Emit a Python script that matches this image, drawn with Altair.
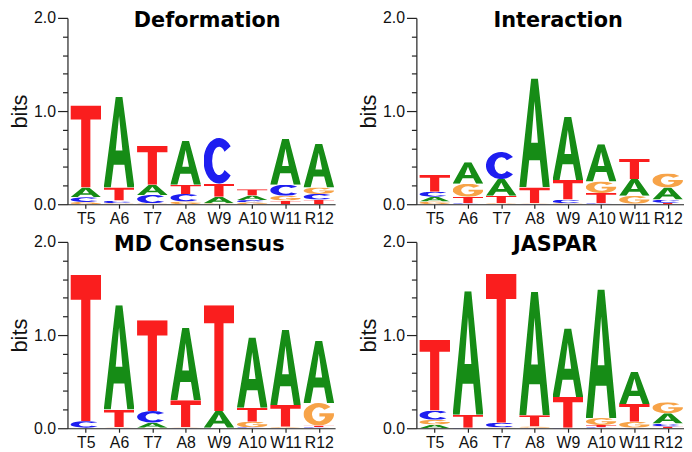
import base64
import json
import altair as alt
import pandas as pd

# ---------------- data ----------------
POSITIONS = ["T5", "A6", "T7", "A8", "W9", "A10", "W11", "R12"]
PANELS = ["Deformation", "Interaction", "MD Consensus", "JASPAR"]
LETTERS = ["A", "C", "G", "T"]

# information content (bits) of each base at each position
DEF_A = [0.105, 0.97, 0.11, 0.47, 0.07, 0.05, 0.49, 0.47]
DEF_C = [0.05, 0.03, 0.09, 0.08, 0.49, 0.025, 0.12, 0.06]
DEF_G = [0.025, 0.01, 0.01, 0.03, 0.01, 0.02, 0.05, 0.07]
DEF_T = [0.88, 0.14, 0.42, 0.10, 0.14, 0.065, 0.04, 0.05]

INT_A = [0.05, 0.23, 0.18, 1.17, 0.68, 0.40, 0.18, 0.13]
INT_C = [0.055, 0.01, 0.29, 0.005, 0.04, 0.01, 0.005, 0.035]
INT_G = [0.03, 0.14, 0.01, 0.005, 0.01, 0.125, 0.085, 0.15]
INT_T = [0.18, 0.07, 0.08, 0.17, 0.21, 0.11, 0.22, 0.015]

MD_A = [0.003, 1.12, 0.055, 0.78, 0.18, 0.755, 0.805, 0.67]
MD_C = [0.07, 0.005, 0.125, 0.005, 0.003, 0.01, 0.005, 0.01]
MD_G = [0.003, 0.005, 0.005, 0.005, 0.003, 0.06, 0.01, 0.24]
MD_T = [1.57, 0.19, 0.975, 0.29, 1.135, 0.15, 0.235, 0.02]

JAS_A = [0.04, 1.325, 0.005, 1.325, 0.735, 1.38, 0.345, 0.11]
JAS_C = [0.10, 0.003, 0.05, 0.005, 0.003, 0.01, 0.005, 0.03]
JAS_G = [0.05, 0.003, 0.005, 0.015, 0.003, 0.075, 0.065, 0.12]
JAS_T = [0.76, 0.14, 1.60, 0.12, 0.33, 0.025, 0.19, 0.02]

PANEL_DATA = {
    "Deformation": {"A": DEF_A, "C": DEF_C, "G": DEF_G, "T": DEF_T},
    "Interaction": {"A": INT_A, "C": INT_C, "G": INT_G, "T": INT_T},
    "MD Consensus": {"A": MD_A, "C": MD_C, "G": MD_G, "T": MD_T},
    "JASPAR": {"A": JAS_A, "C": JAS_C, "G": JAS_G, "T": JAS_T},
}

Y_TICKS = [0.0, 0.2, 0.4, 0.6, 0.8, 1.0, 1.2, 1.4, 1.6, 1.8, 2.0]

# ---------------- letter glyphs (stretchable SVG) ----------------
LETTER_COLORS = {"A": "#168c16", "C": "#1e1ef0", "G": "#f7a348", "T": "#fa1e1e"}
LETTER_PATHS = {
    "A": "M39,0H61L100,100H77L67.5,75H32.5L23,100H0Z M50,21L61,59H39Z",
    "T": "M0,0H100V17H65V100H35V17H0Z",
    "C": "M88.3,17.86 A50,50 0 1 0 88.3,82.14 L68.4,69.9 A23,31 0 1 1 68.4,30.1 Z",
    "G": "M88.3,17.86 A50,50 0 1 0 99.51,56.96 V46 H52 V60 H70 V67.2 A23,31 0 1 1 68.4,30.1 Z",
}


def glyph_url(letter):
    svg = (
        '<svg xmlns="http://www.w3.org/2000/svg" width="100" height="100" '
        'viewBox="0 0 100 100" preserveAspectRatio="none">'
        f'<path d="{LETTER_PATHS[letter]}" fill="{LETTER_COLORS[letter]}" fill-rule="evenodd"/>'
        "</svg>"
    )
    return "data:image/svg+xml;base64," + base64.b64encode(svg.encode()).decode()


GLYPHS = {l: glyph_url(l) for l in LETTERS}


def panel_frame(name):
    rows = []
    d = PANEL_DATA[name]
    for i, pos in enumerate(POSITIONS):
        stack = sorted(((d[l][i], l) for l in LETTERS))
        base = 0.0
        for h, l in stack:
            rows.append({
                "pos": i, "label": pos, "letter": l,
                "x0": i - 0.46, "x1": i + 0.46,
                "y0": base, "y1": base + h, "url": GLYPHS[l],
            })
            base += h
    return pd.DataFrame(rows)


LABEL_EXPR = f"{json.dumps(POSITIONS)}[datum.value]"
TITLE_DX = {"Deformation": 6, "Interaction": 8, "MD Consensus": -2, "JASPAR": 5}


def panel(name):
    df = panel_frame(name)
    return (
        alt.Chart(df)
        .mark_image(aspect=False)
        .encode(
            x=alt.X(
                "x0:Q",
                scale=alt.Scale(domain=[-0.55, 7.49], nice=False, zero=False),
                axis=alt.Axis(
                    values=list(range(len(POSITIONS))),
                    labelExpr=LABEL_EXPR,
                    title=None,
                    grid=False,
                    tickSize=4,
                    labelPadding=2,
                    labelFontSize=16,
                    labelFont="Liberation Sans",
                    labelColor="#111",
                    domainColor="#222",
                    tickColor="#222",
                    labelFlush=False,
                    labelOverlap=False,
                ),
            ),
            x2="x1:Q",
            y=alt.Y(
                "y0:Q",
                scale=alt.Scale(domain=[0, 2], nice=False),
                axis=alt.Axis(
                    values=Y_TICKS,
                    labelExpr="datum.value % 1 === 0 ? format(datum.value, '.1f') : ''",
                    title="bits",
                    titleFontSize=22,
                    titleFont="Liberation Sans",
                    titleFontWeight="normal",
                    titleColor="#111",
                    titlePadding=2,
                    grid=False,
                    tickSize={"condition": {"test": "datum.value % 1 === 0", "value": 10}, "value": 5},
                    labelPadding=2,
                    labelFontSize=16,
                    labelFont="Liberation Sans",
                    labelColor="#111",
                    domainColor="#222",
                    tickColor="#222",
                    labelFlush=False,
                    labelOverlap=False,
                ),
            ),
            y2="y1:Q",
            url="url:N",
        )
        .properties(
            width=270,
            height=188,
            title=alt.TitleParams(
                name,
                font="DejaVu Sans",
                fontSize=21,
                fontWeight="bold",
                color="#000",
                anchor="middle",
                frame="group",
                offset=-21,
                dx=TITLE_DX[name],
            ),
        )
    )


top = alt.hconcat(panel("Deformation"), panel("Interaction"), spacing=22)
bottom = alt.hconcat(panel("MD Consensus"), panel("JASPAR"), spacing=22)
chart = (
    alt.vconcat(top, bottom, spacing=8)
    .properties(padding={"left": 0, "top": 0, "right": 0, "bottom": 0})
    .configure_view(stroke=None)
    .configure_axis(domainWidth=1.2, tickWidth=1.2)
)

chart.save("out.html", embed_options={"renderer": "svg", "actions": False})
